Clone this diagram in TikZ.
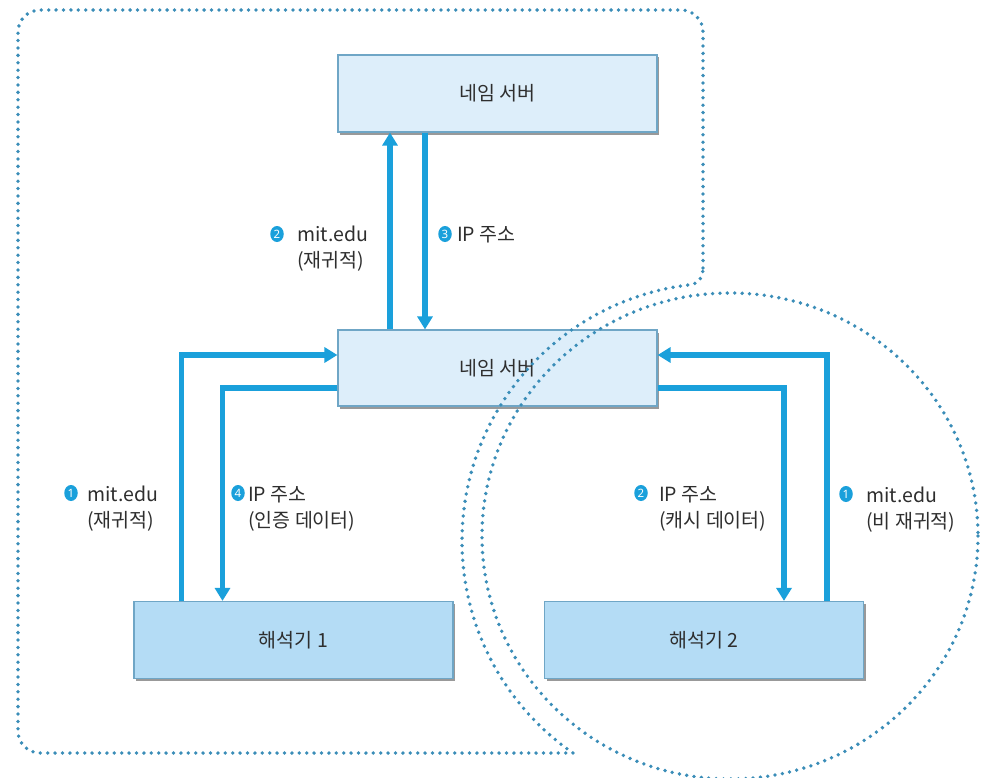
\documentclass[tikz,border=0pt]{standalone}
\usepackage{fontspec}
\setmainfont{Noto Sans CJK KR}
\newfontfamily\badgefont{Noto Sans}
\usetikzlibrary{arrows.meta,shadows,shapes.geometric}

\definecolor{boxline}{HTML}{6FA6C6}
\definecolor{nsfill}{HTML}{DDEEFA}
\definecolor{resfill}{HTML}{B4DCF5}
\definecolor{flowblue}{HTML}{1AA0DB}
\definecolor{dotblue}{HTML}{3A8DB8}
\definecolor{txt}{HTML}{2E2E2E}

\begin{document}
\begin{tikzpicture}[x=1bp,y=-1bp,
  server/.style={draw=boxline, line width=1.2bp, fill=nsfill,
    minimum width=319bp, minimum height=77bp, inner sep=0pt, text=txt,
    font=\fontsize{19.5bp}{26bp}\selectfont,
    drop shadow={shadow xshift=2bp, shadow yshift=-2.5bp, opacity=0.4, fill=black}},
  resolver/.style={server, fill=resfill},
  flow/.style={draw=flowblue, line width=5.5bp,
    -{Triangle[length=13bp,width=15bp]}},
  ring/.style={draw=dotblue, line width=3.8bp, dash pattern=on 0bp off 7.4bp,
    line cap=round},
  lbl/.style={inner sep=0pt, align=left, anchor=base west, text=txt,
    font=\fontsize{19.5bp}{26bp}\selectfont},
  badge/.style={ellipse, fill=flowblue, text=white, inner sep=0pt,
    minimum width=13.5bp, minimum height=16bp,
    font=\badgefont\bfseries\fontsize{11.5bp}{11.5bp}\selectfont}
]
% canvas
\fill[white] (0,0) rectangle (986,778);
\useasboundingbox (0,0) rectangle (986,778);

% servers and resolvers
\node[server]   (ns1) at (497.5,93.5) {네임 서버};
\node[server, minimum height=76bp] (ns2) at (497.5,368) {네임 서버};
\node[resolver] (r1)  at (293.5,640) {해석기 1};
\node[resolver] (r2)  at (704,640)   {해석기 2};

% recursive zone (left) and non-recursive zone (right)
\draw[ring] (703,268) -- (703,32) arc[start angle=0, end angle=-90, radius=22]
  -- (40,10) arc[start angle=-90, end angle=-180, radius=22]
  -- (18,731) arc[start angle=180, end angle=90, radius=22]
  -- (573,753) arc[start angle=124.74, end angle=263.32, radius=258]
  .. controls (697,284) and (703,279) .. cycle;
\draw[ring] (730,536) ellipse [x radius=248, y radius=243];

% query flow between the servers
\draw[flow] ([xshift=-107.5bp]ns2.north) -- ([xshift=-107.5bp]ns1.south);
\draw[flow] ([xshift=-72.5bp]ns1.south) -- ([xshift=-72.5bp]ns2.north);

% resolver 1 (recursive)
\draw[flow] ([xshift=-112bp]r1.north) |- ([yshift=13bp]ns2.west);
\draw[flow] ([yshift=-20bp]ns2.west) -| ([xshift=-71bp]r1.north);

% resolver 2 (non-recursive)
\draw[flow] ([yshift=-20bp]ns2.east) -| ([xshift=80bp]r2.north);
\draw[flow] ([xshift=123bp]r2.north) |- ([yshift=13bp]ns2.east);

% step labels (anchored on the baseline of their last line)
\node[badge] (b2top) at (277,234) {2};
\node[lbl] (l2top) at (297,267) {mit.edu\\(재귀적)};
\node[badge] (b3top) at (445,234) {3};
\node[lbl] (l3top) at (457,241) {IP 주소};

\node[badge] (b1left) at (71,493) {1};
\node[lbl] (l1left) at (87,527) {mit.edu\\(재귀적)};
\node[badge] (b4left) at (238,493) {4};
\node[lbl] (l4left) at (248,527) {IP 주소\\(인증 데이터)};

\node[badge] (b2right) at (641,493) {2};
\node[lbl] (l2right) at (659,527) {IP 주소\\(캐시 데이터)};
\node[badge] (b1right) at (846,494) {1};
\node[lbl] (l1right) at (866,528) {mit.edu\\(비 재귀적)};
\end{tikzpicture}
\end{document}
